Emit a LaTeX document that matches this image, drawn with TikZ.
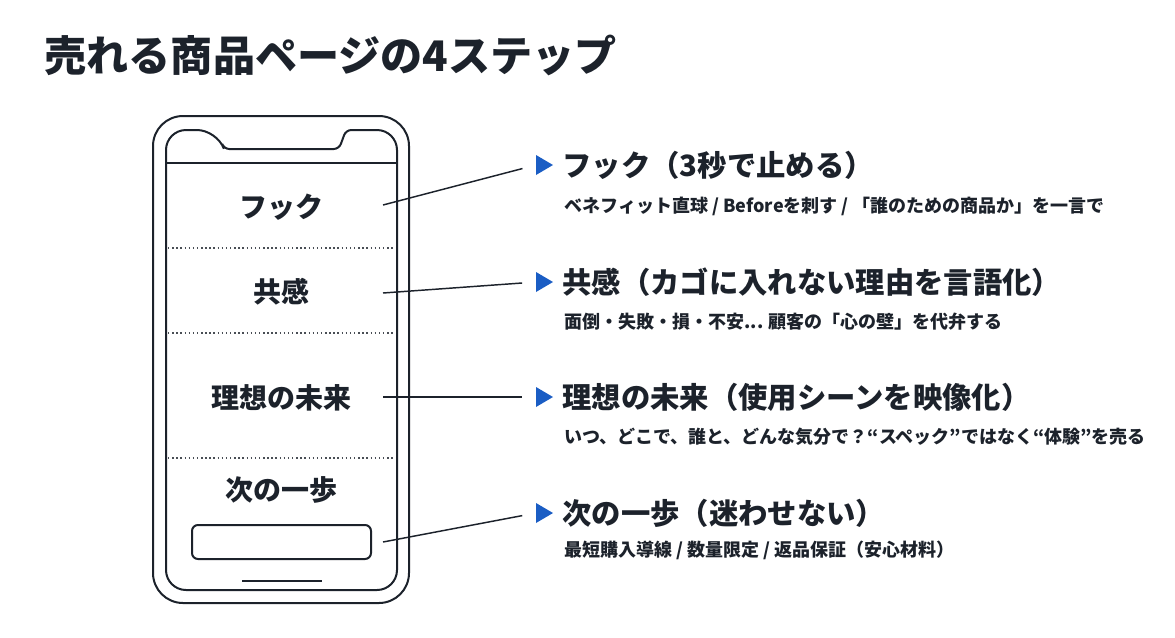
\documentclass[tikz,border=0pt]{standalone}
\usepackage{fontspec}
\setmainfont{Noto Sans CJK JP}
\definecolor{ink}{RGB}{28,34,43}
\definecolor{stepblue}{RGB}{26,93,196}
\tikzset{every picture/.style={line width=0.75pt}}
\tikzset{
  phoneline/.style={draw=ink, line width=1.5pt},
  sepline/.style={draw=ink!80, line width=1.1pt, dotted},
  screenlabel/.style={text=ink, font=\bfseries\fontsize{21}{24}\selectfont, inner sep=0pt},
  stephead/.style={text=ink, font=\bfseries\fontsize{22}{26}\selectfont, inner sep=0pt, anchor=west},
  stepnote/.style={text=ink, font=\bfseries\fontsize{13.5}{16}\selectfont, inner sep=0pt, anchor=west},
  pointer/.style={draw=ink, line width=1.1pt, shorten >=10.5pt},
}

\begin{document}
\begin{tikzpicture}[x=0.75pt,y=0.75pt,yscale=-1,xscale=1]
\useasboundingbox (0,0) rectangle (1175,637);

%Title
\node[text=ink, font=\bfseries\fontsize{31.6}{36}\selectfont, inner sep=0pt, anchor=west] (title) at (44,55) {売れる商品ページの4ステップ};

%Shape: Phone body
\draw[phoneline, rounded corners=22.5pt] (153,116) rectangle (409,603);
%Shape: Phone screen with notch
\draw[phoneline, rounded corners=15pt] (166,360) -- (166,130) -- (217,130) [rounded corners=4pt] -- (224,149) -- (339,149) -- (346,130) [rounded corners=15pt] -- (397,130) -- (397,590) -- (166,590) -- cycle ;
%Status bar
\draw[phoneline] (166,163) -- (397,163) ;
%Section separators
\draw[sepline] (168,248) -- (395,248) ;
\draw[sepline] (168,333) -- (395,333) ;
\draw[sepline] (168,458) -- (395,458) ;
%Shape: Button
\draw[phoneline, rounded corners=4.5pt] (192,525) rectangle (371,559) ;
%Home indicator
\draw[phoneline] (242,581) -- (322,581) ;

%Screen labels
\node[screenlabel] (hook) at (281.5,207) {フック};
\node[screenlabel] (empathy) at (281.5,292) {共感};
\node[screenlabel] (future) at (281.5,398) {理想の未来};
\node[screenlabel] (nextstep) at (281.5,490) {次の一歩};

%Pointer start points
\coordinate (p1) at (383,205);
\coordinate (p2) at (383,293);
\coordinate (p3) at (383,397);
\coordinate (p4) at (383,542);
%Bullet triangles
\coordinate (t1) at (536,165);
\coordinate (t2) at (536,282);
\coordinate (t3) at (536,397);
\coordinate (t4) at (536,513);
\foreach \t in {t1,t2,t3,t4}
  \fill[stepblue] (\t) ++(0,-10) -- ++(17,10) -- ++(-17,10) -- cycle ;

%Pointers
\draw[pointer] (p1) -- (t1) ;
\draw[pointer] (p2) -- (t2) ;
\draw[pointer] (p3) -- (t3) ;
\draw[pointer] (p4) -- (t4) ;

%Step headings and notes
\node[stephead] (head1) at (562,165) {フック（3秒で止める）};
\node[stepnote] (note1) at (564,206) {ベネフィット直球 / Beforeを刺す / 「誰のための商品か」を一言で};
\node[stephead] (head2) at (562,282) {共感（カゴに入れない理由を言語化）};
\node[stepnote] (note2) at (564,322) {面倒・失敗・損・不安... 顧客の「心の壁」を代弁する};
\node[stephead] (head3) at (562,397) {理想の未来（使用シーンを映像化）};
\node[stepnote] (note3) at (564,437) {いつ、どこで、誰と、どんな気分で？“スペック”ではなく“体験”を売る};
\node[stephead] (head4) at (562,513) {次の一歩（迷わせない）};
\node[stepnote] (note4) at (564,550) {最短購入導線 / 数量限定 / 返品保証（安心材料）};

\end{tikzpicture}
\end{document}
